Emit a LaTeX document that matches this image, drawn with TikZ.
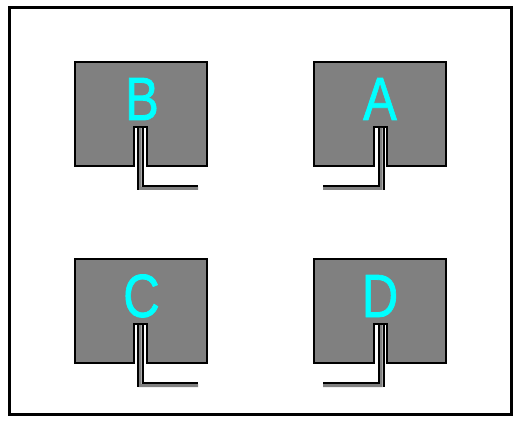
\documentclass[tikz,border=0pt]{standalone}
\usepackage{fontspec}
\setmainfont{Liberation Sans}
\newfontfamily\letterfont[FakeBold=1.3]{Liberation Sans}
\usepackage{graphicx}
\definecolor{chipgray}{HTML}{808080}
\definecolor{lettercyan}{HTML}{00FFFF}
\tikzset{
 chipbody/.style={fill=chipgray, draw=black, line width=2pt, line join=miter},
 leadfill/.style={fill=chipgray},
 leadline/.style={draw=black, line width=2pt},
 frame/.style={draw=black, line width=3pt},
 letter/.style={text=lettercyan, font=\letterfont\fontsize{61}{61}\selectfont, inner sep=0pt, anchor=base},
}
\newcommand\chipdraw[3]{%
 \begin{scope}[shift={(#1,#2)}, xscale=#3]
  \path[chipbody] (-65.5,62) -- (66.5,62) -- (66.5,166) -- (6.5,166) -- (6.5,127) -- (-6.5,127) -- (-6.5,166) -- (-65.5,166) -- cycle;
  \path[leadfill] (-2,128) rectangle (1,190) (-2,187) rectangle (57.5,190);
  \draw[leadline] (-3,128) -- (-3,190);
  \draw[leadline] (2,128) -- (2,186) -- (57.5,186);
 \end{scope}}
\begin{document}
\begin{tikzpicture}[x=1pt,y=-1pt]
 \useasboundingbox (0,0) rectangle (521,427);
 \fill[white] (0,0) rectangle (521,427);
 \draw[frame] (9.5,7.5) rectangle (511,414.5);
 \chipdraw{140.5}{0}{1}
 \chipdraw{380.5}{0}{-1}
 \chipdraw{140.5}{197}{1}
 \chipdraw{380.5}{197}{-1}
 \node[letter] (B) at (142,120) {\scalebox{0.83}[1]{B}};
 \node[letter] (A) at (380,120) {\scalebox{0.83}[1]{A}};
 \node[letter] (C) at (141.5,317) {\scalebox{0.83}[1]{C}};
 \node[letter] (D) at (380,317) {\scalebox{0.83}[1]{D}};
\end{tikzpicture}
\end{document}
